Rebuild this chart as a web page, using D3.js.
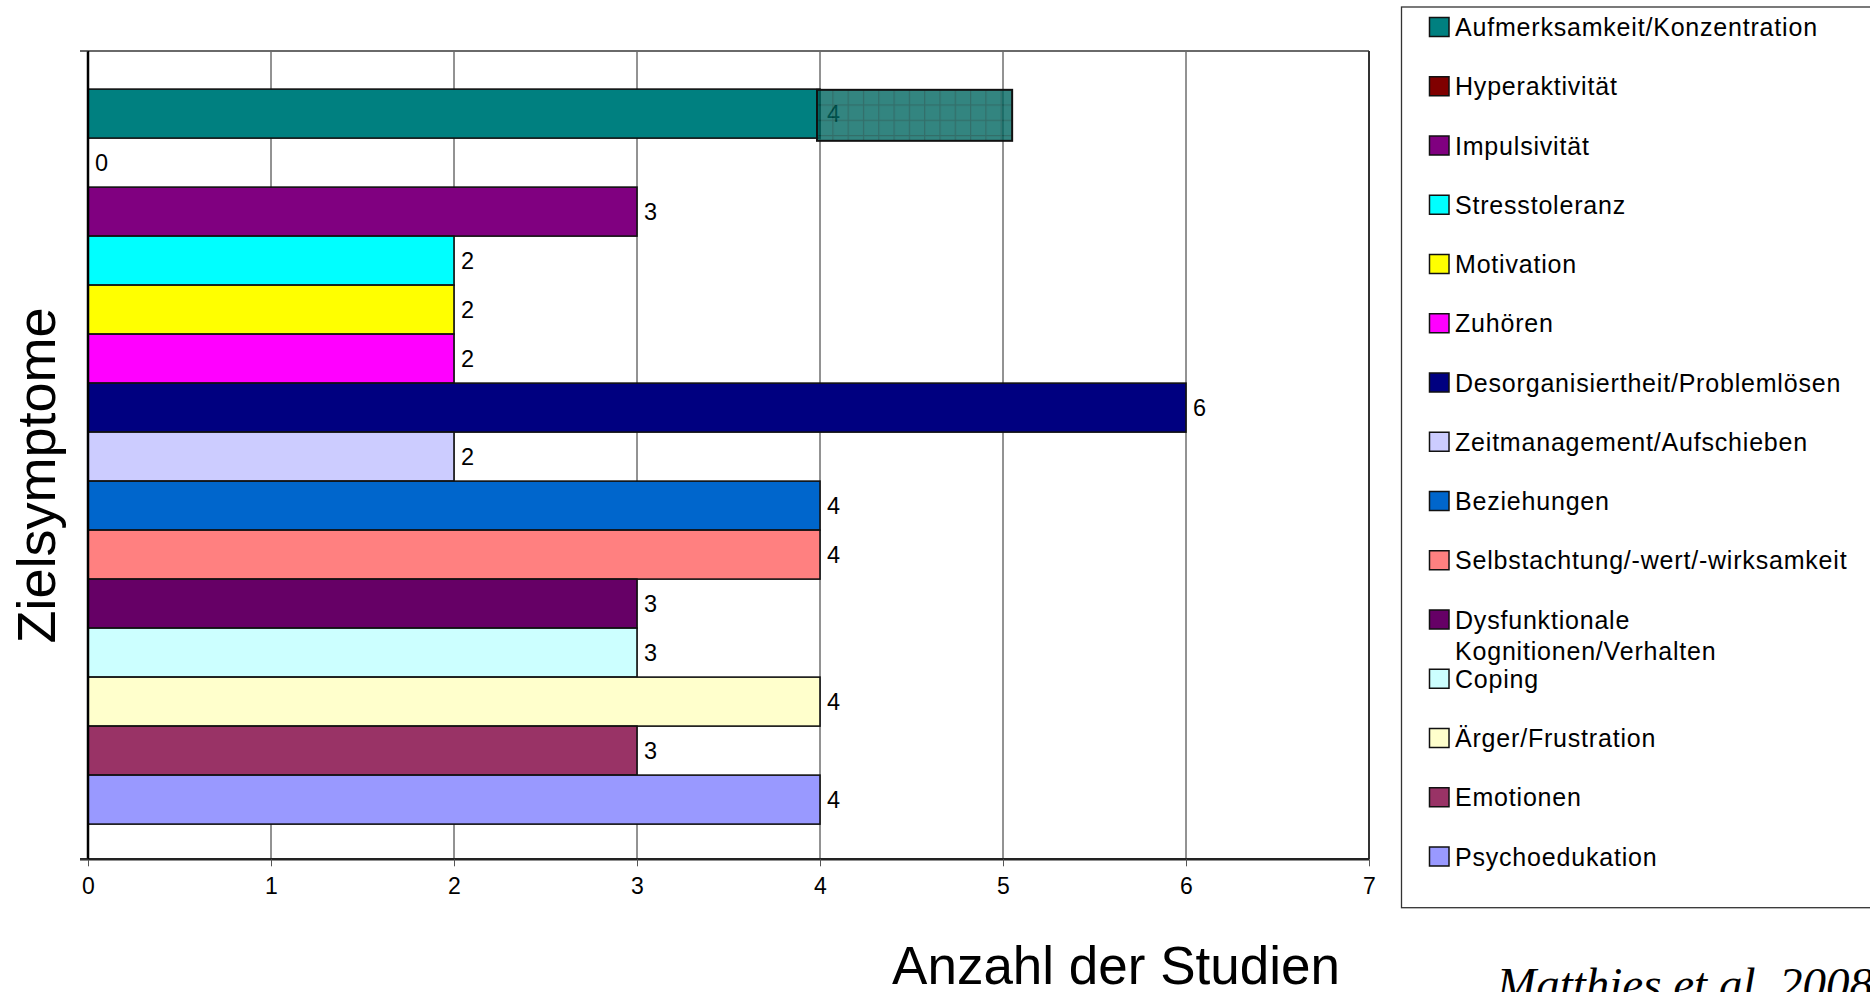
<!DOCTYPE html>
<html lang="de">
<head>
<meta charset="utf-8">
<title>Zielsymptome – Anzahl der Studien</title>
<script src="https://cdn.jsdelivr.net/npm/d3@7"></script>
<style>
  html, body { margin: 0; padding: 0; background: #ffffff; overflow: hidden; }
  svg { display: block; font-family: "Liberation Sans", Arial, sans-serif; }
</style>
</head>
<body>
<svg id="chart" width="1870" height="992"></svg>
<script>
// Target symptoms addressed by the studies (one bar per symptom)
const categories = [
  "Aufmerksamkeit/Konzentration",
  "Hyperaktivität",
  "Impulsivität",
  "Stresstoleranz",
  "Motivation",
  "Zuhören",
  "Desorganisiertheit/Problemlösen",
  "Zeitmanagement/Aufschieben",
  "Beziehungen",
  "Selbstachtung/-wert/-wirksamkeit",
  "Dysfunktionale Kognitionen/Verhalten",
  "Coping",
  "Ärger/Frustration",
  "Emotionen",
  "Psychoedukation"
];

// Number of studies per symptom
const studyCounts = [4, 0, 3, 2, 2, 2, 6, 2, 4, 4, 3, 3, 4, 3, 4];

// Fill colours, one per symptom
const barColors = [
  "#008080", "#800000", "#800080", "#00FFFF", "#FFFF00",
  "#FF00FF", "#000080", "#CCCCFF", "#0066CC", "#FF8080",
  "#660066", "#CCFFFF", "#FFFFCC", "#993366", "#9999FF"
];

// Legend text lines (long entries wrap onto two lines)
const legendLines = [
  ["Aufmerksamkeit/Konzentration"],
  ["Hyperaktivität"],
  ["Impulsivität"],
  ["Stresstoleranz"],
  ["Motivation"],
  ["Zuhören"],
  ["Desorganisiertheit/Problemlösen"],
  ["Zeitmanagement/Aufschieben"],
  ["Beziehungen"],
  ["Selbstachtung/-wert/-wirksamkeit"],
  ["Dysfunktionale", "Kognitionen/Verhalten"],
  ["Coping"],
  ["Ärger/Frustration"],
  ["Emotionen"],
  ["Psychoedukation"]
];

// x-axis tick values
const xTicks = [0, 1, 2, 3, 4, 5, 6, 7];

// Highlighted stretch on the first bar (in study counts)
const highlightRange = [4, 5.05];

const axisTitleX = "Anzahl der Studien";
const axisTitleY = "Zielsymptome";
const sourceNote = "Matthies et al. 2008";

const svg = d3.select("#chart");

const plot = { left: 88, right: 1369, top: 51, bottom: 859.3 };

const x = d3.scaleLinear().domain([0, 7]).range([plot.left, plot.right]);
const y = d3.scaleBand()
  .domain(categories)
  .range([plot.top, plot.bottom])
  .paddingInner(0)
  .paddingOuter(0.748)
  .align(0.52);

// Plot background
svg.append("rect")
  .attr("x", plot.left).attr("y", plot.top)
  .attr("width", plot.right - plot.left).attr("height", plot.bottom - plot.top)
  .attr("fill", "#ffffff");

// Vertical gridlines
svg.append("g")
  .selectAll("line")
  .data(xTicks.filter(t => t > 0 && t < 7))
  .join("line")
  .attr("x1", d => x(d)).attr("x2", d => x(d))
  .attr("y1", plot.top).attr("y2", plot.bottom)
  .attr("stroke", "#262626").attr("stroke-width", 1);

// Plot frame: top and right edges
svg.append("line")
  .attr("x1", plot.left).attr("x2", plot.right)
  .attr("y1", plot.top).attr("y2", plot.top)
  .attr("stroke", "#6a6a6a").attr("stroke-width", 2);
svg.append("line")
  .attr("x1", plot.right).attr("x2", plot.right)
  .attr("y1", plot.top).attr("y2", plot.bottom)
  .attr("stroke", "#333333").attr("stroke-width", 2);

// Bars
const data = categories.map((c, i) => ({ cat: c, value: studyCounts[i], color: barColors[i] }));

svg.append("g")
  .selectAll("rect")
  .data(data.filter(d => d.value > 0))
  .join("rect")
  .attr("x", x(0))
  .attr("y", d => y(d.cat))
  .attr("width", d => x(d.value) - x(0))
  .attr("height", y.bandwidth())
  .attr("fill", d => d.color)
  .attr("stroke", "#111111")
  .attr("stroke-width", 1.6);

// Value labels
svg.append("g")
  .selectAll("text")
  .data(data)
  .join("text")
  .attr("x", d => x(d.value) + 7)
  .attr("y", d => y(d.cat) + y.bandwidth() / 2 + 8.5)
  .attr("font-size", 23.5)
  .attr("fill", "#000000")
  .text(d => d.value);

// Highlight block over the first bar (grid pattern, translucent)
const defs = svg.append("defs");
const pat = defs.append("pattern")
  .attr("id", "gridHatch")
  .attr("patternUnits", "userSpaceOnUse")
  .attr("width", 15.3).attr("height", 15.3)
  .attr("x", x(highlightRange[0]) - 3).attr("y", y(categories[0]));
pat.append("rect").attr("width", 15.3).attr("height", 15.3).attr("fill", "#006660");
pat.append("path")
  .attr("d", "M0,0.5H15.3M0.5,0V15.3")
  .attr("stroke", "#004a44").attr("stroke-width", 1.4);

const first = data[0];
svg.append("rect")
  .attr("x", x(highlightRange[0]) - 3)
  .attr("y", y(first.cat) + 0.7)
  .attr("width", x(highlightRange[1]) - x(highlightRange[0]) + 3)
  .attr("height", y.bandwidth() + 2)
  .attr("fill", "url(#gridHatch)")
  .attr("fill-opacity", 0.8)
  .attr("stroke", "#111111")
  .attr("stroke-width", 2);

// Axes
const xAxis = d3.axisBottom(x).tickValues(xTicks).tickSize(7).tickPadding(11).tickFormat(d3.format("d"));
const gx = svg.append("g")
  .attr("transform", `translate(0,${plot.bottom})`)
  .call(xAxis);
gx.select(".domain").attr("stroke", "#222222").attr("stroke-width", 2.5)
  .attr("d", `M${plot.left - 8},0H${plot.right}`);
gx.selectAll(".tick line").attr("stroke", "#555555").attr("stroke-width", 1);
gx.selectAll(".tick text")
  .attr("font-size", 23)
  .attr("font-family", "'Liberation Sans', Arial, sans-serif")
  .attr("fill", "#000000");

// Left axis: one category spanning the whole height, ticks at its borders
const gy = svg.append("g");
gy.append("line")
  .attr("x1", plot.left).attr("x2", plot.left)
  .attr("y1", plot.top).attr("y2", plot.bottom)
  .attr("stroke", "#000000").attr("stroke-width", 2.5);
gy.selectAll("line.tick")
  .data([plot.top, plot.bottom])
  .join("line")
  .attr("class", "tick")
  .attr("x1", plot.left - 8).attr("x2", plot.left)
  .attr("y1", d => d).attr("y2", d => d)
  .attr("stroke", "#333333").attr("stroke-width", 1.5);

// Axis titles
svg.append("text")
  .attr("transform", "translate(55,475.5) rotate(-90)")
  .attr("text-anchor", "middle")
  .attr("font-size", 54)
  .attr("fill", "#000000")
  .text(axisTitleY);

svg.append("text")
  .attr("x", 1116).attr("y", 984)
  .attr("text-anchor", "middle")
  .attr("font-size", 53)
  .attr("fill", "#000000")
  .text(axisTitleX);

// Source note
svg.append("text")
  .attr("x", 1497).attr("y", 1000)
  .attr("font-family", "'Liberation Serif', 'Times New Roman', serif")
  .attr("font-style", "italic")
  .attr("font-size", 47)
  .attr("fill", "#000000")
  .text(sourceNote);

// Legend
const legend = { left: 1401.5, top: 7, bottom: 907.7, first: 27, step: 59.25 };
svg.append("rect")
  .attr("x", legend.left).attr("y", legend.top)
  .attr("width", 1870 - legend.left + 10).attr("height", legend.bottom - legend.top)
  .attr("fill", "#ffffff").attr("stroke", "#333333").attr("stroke-width", 1.3);

const items = svg.append("g")
  .selectAll("g")
  .data(data.map((d, i) => ({ ...d, lines: legendLines[i], i })))
  .join("g")
  .attr("transform", d => `translate(0,${legend.first + legend.step * d.i})`);

items.append("rect")
  .attr("x", 1429.5).attr("y", -9.5)
  .attr("width", 19.5).attr("height", 19)
  .attr("fill", d => d.color)
  .attr("stroke", "#111111").attr("stroke-width", 1.5);

items.append("text")
  .attr("x", 1455).attr("y", 9)
  .attr("font-size", 25)
  .attr("letter-spacing", "0.8px")
  .attr("fill", "#000000")
  .selectAll("tspan")
  .data(d => d.lines)
  .join("tspan")
  .attr("x", 1455)
  .attr("dy", (l, j) => j === 0 ? 0 : 31)
  .text(l => l);
</script>
</body>
</html>
